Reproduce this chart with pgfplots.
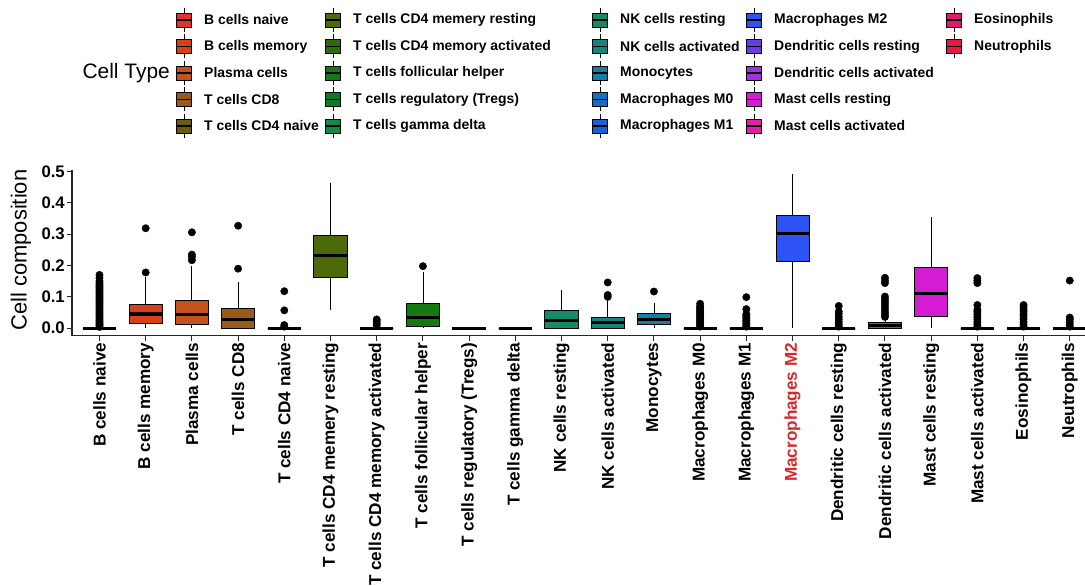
\documentclass[border=0pt]{standalone}
\usepackage{pgfplots}
\pgfplotsset{compat=1.18}
\usepgfplotslibrary{statistics}
\usepackage{fontspec}
\setmainfont{Liberation Sans}
\definecolor{c1}{HTML}{E8302A}
\definecolor{c2}{HTML}{DA4018}
\definecolor{c3}{HTML}{C4521A}
\definecolor{c4}{HTML}{9C5A1A}
\definecolor{c5}{HTML}{6B5A12}
\definecolor{c6}{HTML}{4C6A0A}
\definecolor{c7}{HTML}{2E6A0E}
\definecolor{c8}{HTML}{137A14}
\definecolor{c9}{HTML}{0E7A24}
\definecolor{c10}{HTML}{128A4A}
\definecolor{c11}{HTML}{138A68}
\definecolor{c12}{HTML}{12857F}
\definecolor{c13}{HTML}{147FA0}
\definecolor{c14}{HTML}{1570C0}
\definecolor{c15}{HTML}{1A60D8}
\definecolor{c16}{HTML}{2D53F5}
\definecolor{c17}{HTML}{6A3CE8}
\definecolor{c18}{HTML}{A030E0}
\definecolor{c19}{HTML}{D41CD2}
\definecolor{c20}{HTML}{E020A8}
\definecolor{c21}{HTML}{E01A70}
\definecolor{c22}{HTML}{E81A40}
\definecolor{m2red}{HTML}{D8282A}
\pgfplotsset{
  bx/.style={
    mark=*, mark size=3.7bp,
    mark options={draw=black, fill=black, solid},
    boxplot/draw direction=y,
    boxplot/box extend=0.72,
    boxplot/whisker extend=0,
    boxplot/every box/.style={draw=black, fill=#1, line width=0.8bp},
    boxplot/every whisker/.style={draw=black, line width=0.8bp},
    boxplot/every median/.style={draw=black, line width=3.2bp},
  }
}
\newcommand{\lkey}[4]{%
  \draw[black, line width=0.7bp] (#1,#2-12) -- (#1,#2+12);
  \filldraw[fill=#3, draw=black, line width=0.8bp] (#1-7.5,#2-7) rectangle (#1+7.5,#2+7);
  \draw[black, line width=1.6bp] (#1-7.5,#2) -- (#1+7.5,#2);
  \node[anchor=west, inner sep=0pt, font=\bfseries\fontsize{14}{16}\selectfont] at (#1+20,#2) {#4};
}
\begin{document}
\begin{tikzpicture}
\begin{axis}[
  name=ax,
  scale only axis,
  width=1013bp, height=165.7bp,
  xmin=-0.595, xmax=21.33,
  ymin=-0.024, ymax=0.505,
  clip=false,
  axis lines*=left,
  axis line style={line width=1.2bp, black!85},
  tick align=outside,
  major tick length=5bp,
  tick style={line width=1bp, black!85},
  xtick={0,1,...,21},
  xticklabels={B cells naive, B cells memory, Plasma cells, T cells CD8, T cells CD4 naive, T cells CD4 memery resting, T cells CD4 memory activated, T cells follicular helper, T cells regulatory (Tregs), T cells gamma delta, NK cells resting, NK cells activated, Monocytes, Macrophages M0, Macrophages M1, {\textcolor{m2red}{Macrophages M2}}, Dendritic cells resting, Dendritic cells activated, Mast cells resting, Mast cells activated, Eosinophils, Neutrophils},
  xticklabel style={rotate=90, anchor=east, font=\bfseries\fontsize{17.2}{19}\selectfont, inner sep=2bp},
  ytick={0,0.1,0.2,0.3,0.4,0.5},
  yticklabels={0.0,0.1,0.2,0.3,0.4,0.5},
  yticklabel style={font=\bfseries\fontsize{16.8}{18}\selectfont, inner sep=2bp},
  ylabel={Cell composition},
  ylabel style={at={(axis description cs:-0.0503,0.517)}, anchor=center, rotate=0, font=\fontsize{22}{24}\selectfont},
]
% 0 B cells naive
\addplot[bx=c1, boxplot prepared={draw position=0, lower whisker=0, lower quartile=0, median=0, upper quartile=0, upper whisker=0}] coordinates {(0,0.004)(0,0.008)(0,0.012)(0,0.016)(0,0.02)(0,0.025)(0,0.03)(0,0.035)(0,0.04)(0,0.045)(0,0.05)(0,0.055)(0,0.06)(0,0.065)(0,0.07)(0,0.075)(0,0.08)(0,0.085)(0,0.09)(0,0.095)(0,0.1)(0,0.105)(0,0.11)(0,0.115)(0,0.12)(0,0.125)(0,0.13)(0,0.135)(0,0.14)(0,0.145)(0,0.15)(0,0.16)(0,0.17)};
% 1 B cells memory
\addplot[bx=c2, boxplot prepared={draw position=1, lower whisker=0, lower quartile=0.014, median=0.045, upper quartile=0.075, upper whisker=0.163}] coordinates {(1,0.178)(1,0.319)};
% 2 Plasma cells
\addplot[bx=c3, boxplot prepared={draw position=2, lower whisker=0, lower quartile=0.013, median=0.043, upper quartile=0.090, upper whisker=0.197}] coordinates {(2,0.217)(2,0.227)(2,0.235)(2,0.306)};
% 3 T cells CD8
\addplot[bx=c4, boxplot prepared={draw position=3, lower whisker=0, lower quartile=0, median=0.027, upper quartile=0.063, upper whisker=0.149}] coordinates {(3,0.19)(3,0.327)};
% 4 T cells CD4 naive
\addplot[bx=c5, boxplot prepared={draw position=4, lower whisker=0, lower quartile=0, median=0, upper quartile=0, upper whisker=0}] coordinates {(4,0.005)(4,0.01)(4,0.057)(4,0.118)};
% 5 T cells CD4 memery resting
\addplot[bx=c6, boxplot prepared={draw position=5, lower whisker=0.059, lower quartile=0.162, median=0.231, upper quartile=0.295, upper whisker=0.463}] coordinates {};
% 6 T cells CD4 memory activated
\addplot[bx=c7, boxplot prepared={draw position=6, lower whisker=0, lower quartile=0, median=0, upper quartile=0, upper whisker=0}] coordinates {(6,0.008)(6,0.015)(6,0.022)(6,0.028)};
% 7 T cells follicular helper
\addplot[bx=c8, boxplot prepared={draw position=7, lower whisker=0, lower quartile=0.005, median=0.034, upper quartile=0.079, upper whisker=0.179}] coordinates {(7,0.198)};
% 8 Tregs
\addplot[bx=c9, boxplot prepared={draw position=8, lower whisker=0, lower quartile=0, median=0, upper quartile=0, upper whisker=0}] coordinates {};
% 9 gamma delta
\addplot[bx=c10, boxplot prepared={draw position=9, lower whisker=0, lower quartile=0, median=0, upper quartile=0, upper whisker=0}] coordinates {};
% 10 NK cells resting
\addplot[bx=c11, boxplot prepared={draw position=10, lower whisker=0, lower quartile=0, median=0.024, upper quartile=0.057, upper whisker=0.122}] coordinates {};
% 11 NK cells activated
\addplot[bx=c12, boxplot prepared={draw position=11, lower whisker=0, lower quartile=0, median=0.017, upper quartile=0.036, upper whisker=0.087}] coordinates {(11,0.100)(11,0.106)(11,0.146)};
% 12 Monocytes
\addplot[bx=c13, boxplot prepared={draw position=12, lower whisker=0, lower quartile=0.012, median=0.028, upper quartile=0.046, upper whisker=0.081}] coordinates {(12,0.117)};
% 13 Macrophages M0
\addplot[bx=c14, boxplot prepared={draw position=13, lower whisker=0, lower quartile=0, median=0, upper quartile=0, upper whisker=0}] coordinates {(13,0.005)(13,0.01)(13,0.015)(13,0.02)(13,0.025)(13,0.03)(13,0.035)(13,0.04)(13,0.045)(13,0.05)(13,0.055)(13,0.06)(13,0.065)(13,0.07)(13,0.078)};
% 14 Macrophages M1
\addplot[bx=c15, boxplot prepared={draw position=14, lower whisker=0, lower quartile=0, median=0, upper quartile=0, upper whisker=0}] coordinates {(14,0.005)(14,0.01)(14,0.015)(14,0.02)(14,0.025)(14,0.03)(14,0.035)(14,0.04)(14,0.045)(14,0.061)(14,0.099)};
% 15 Macrophages M2
\addplot[bx=c16, boxplot prepared={draw position=15, lower whisker=0, lower quartile=0.212, median=0.303, upper quartile=0.361, upper whisker=0.491}] coordinates {};
% 16 Dendritic cells resting
\addplot[bx=c17, boxplot prepared={draw position=16, lower whisker=0, lower quartile=0, median=0, upper quartile=0, upper whisker=0}] coordinates {(16,0.005)(16,0.012)(16,0.02)(16,0.028)(16,0.036)(16,0.045)(16,0.053)(16,0.071)};
% 17 Dendritic cells activated
\addplot[bx=c18, boxplot prepared={draw position=17, lower whisker=0, lower quartile=0, median=0.009, upper quartile=0.019, upper whisker=0.03}] coordinates {(17,0.036)(17,0.043)(17,0.051)(17,0.060)(17,0.069)(17,0.077)(17,0.085)(17,0.093)(17,0.101)(17,0.144)(17,0.152)(17,0.161)};
% 18 Mast cells resting
\addplot[bx=c19, boxplot prepared={draw position=18, lower whisker=0, lower quartile=0.039, median=0.110, upper quartile=0.193, upper whisker=0.356}] coordinates {};
% 19 Mast cells activated
\addplot[bx=c20, boxplot prepared={draw position=19, lower whisker=0, lower quartile=0, median=0, upper quartile=0, upper whisker=0}] coordinates {(19,0.005)(19,0.012)(19,0.02)(19,0.028)(19,0.036)(19,0.044)(19,0.052)(19,0.059)(19,0.074)(19,0.144)(19,0.152)(19,0.160)};
% 20 Eosinophils
\addplot[bx=c21, boxplot prepared={draw position=20, lower whisker=0, lower quartile=0, median=0, upper quartile=0, upper whisker=0}] coordinates {(20,0.005)(20,0.012)(20,0.02)(20,0.028)(20,0.036)(20,0.044)(20,0.052)(20,0.059)(20,0.067)(20,0.074)};
% 21 Neutrophils
\addplot[bx=c22, boxplot prepared={draw position=21, lower whisker=0, lower quartile=0, median=0, upper quartile=0, upper whisker=0}] coordinates {(21,0.005)(21,0.012)(21,0.02)(21,0.028)(21,0.034)(21,0.152)};
\end{axis}
\pgfresetboundingbox
\begin{scope}[shift={([shift={(-72bp,335.7bp)}]ax.south west)}, x=1bp, y=-1bp]
\path[use as bounding box] (0,0) rectangle (1085,586);
\node[anchor=east, inner sep=0pt, font=\fontsize{21}{24}\selectfont] at (170,73) {Cell Type};
\lkey{184}{20}{c1}{B cells naive}
\lkey{184}{46.5}{c2}{B cells memory}
\lkey{184}{73}{c3}{Plasma cells}
\lkey{184}{99.5}{c4}{T cells CD8}
\lkey{184}{126}{c5}{T cells CD4 naive}
\lkey{333}{20}{c6}{T cells CD4 memery resting}
\lkey{333}{46.5}{c7}{T cells CD4 memory activated}
\lkey{333}{73}{c8}{T cells follicular helper}
\lkey{333}{99.5}{c9}{T cells regulatory (Tregs)}
\lkey{333}{126}{c10}{T cells gamma delta}
\lkey{600}{20}{c11}{NK cells resting}
\lkey{600}{46.5}{c12}{NK cells activated}
\lkey{600}{73}{c13}{Monocytes}
\lkey{600}{99.5}{c14}{Macrophages M0}
\lkey{600}{126}{c15}{Macrophages M1}
\lkey{754}{20}{c16}{Macrophages M2}
\lkey{754}{46.5}{c17}{Dendritic cells resting}
\lkey{754}{73}{c18}{Dendritic cells activated}
\lkey{754}{99.5}{c19}{Mast cells resting}
\lkey{754}{126}{c20}{Mast cells activated}
\lkey{954}{20}{c21}{Eosinophils}
\lkey{954}{46.5}{c22}{Neutrophils}
\end{scope}
\end{tikzpicture}
\end{document}
